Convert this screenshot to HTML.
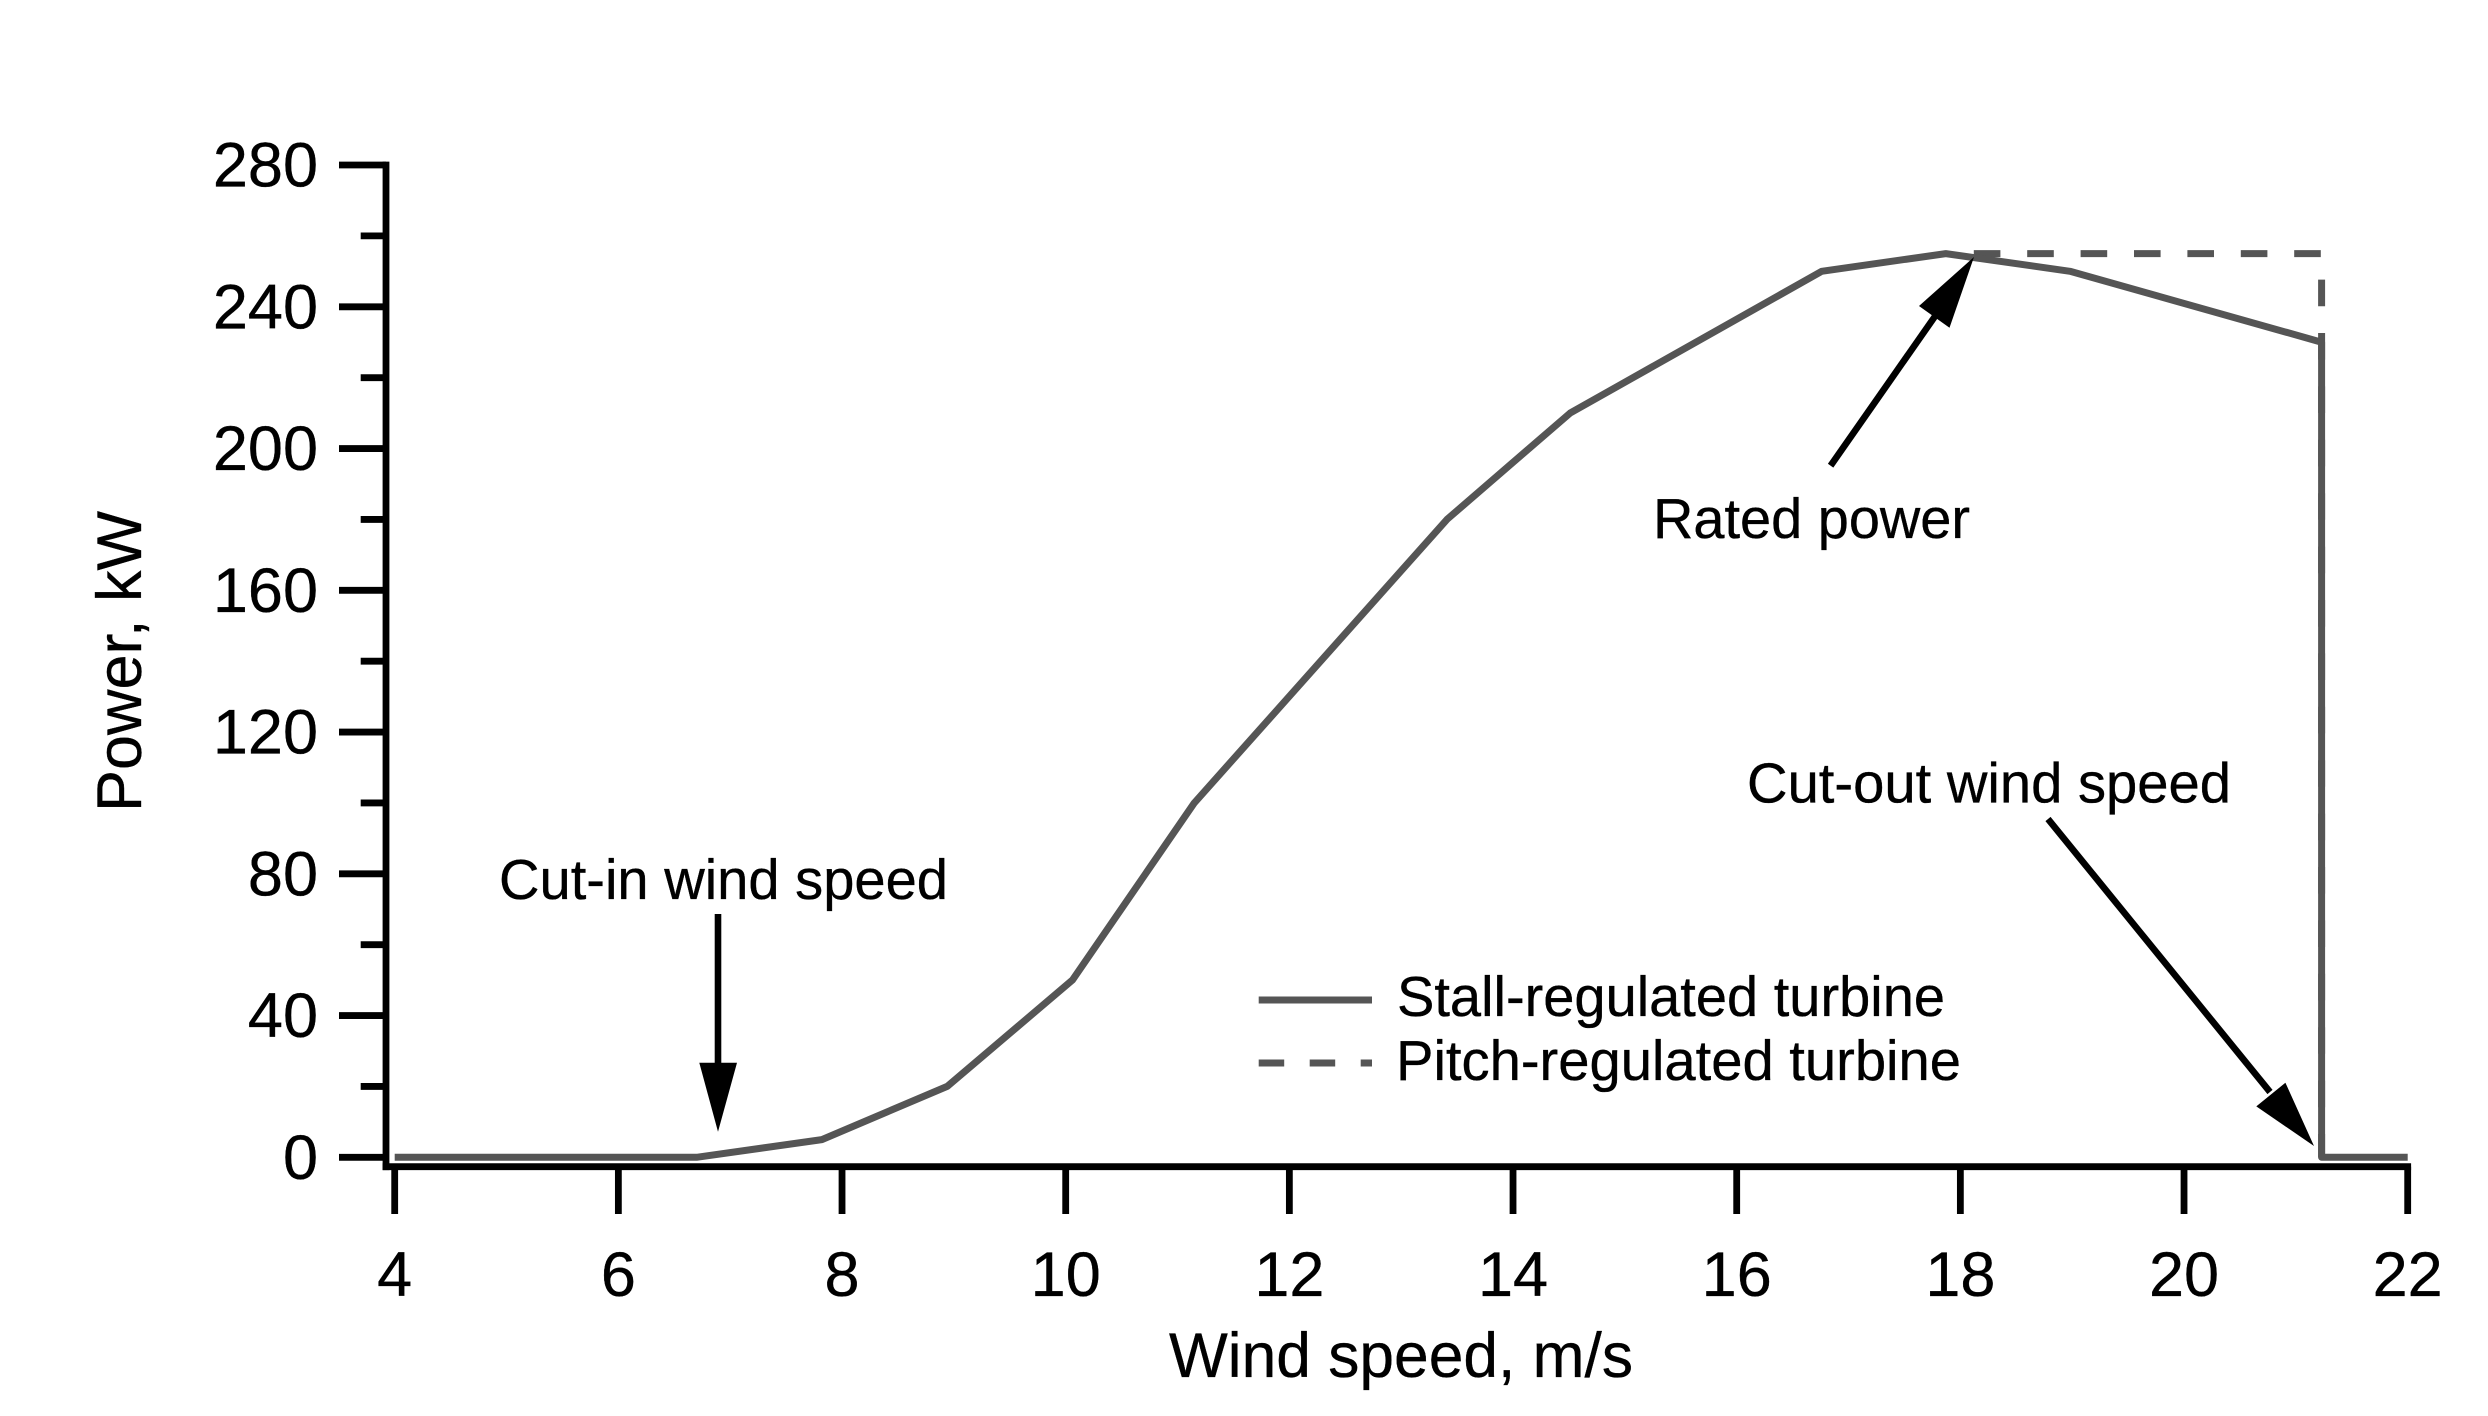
<!DOCTYPE html>
<html lang="en">
<head>
<meta charset="utf-8">
<title>Wind turbine power curve</title>
<style>
  html, body { margin: 0; padding: 0; background: #fff; }
  svg { display: block; }
  text { font-family: "Liberation Sans", Arial, sans-serif; fill: #000; stroke: #000; stroke-width: 0.35px; }
  .big { font-size: 63px; }
  .note { font-size: 57px; }
</style>
</head>
<body>
<svg id="chart" xmlns="http://www.w3.org/2000/svg" width="2488" height="1416" viewBox="0 0 2488 1416">
  <rect x="0" y="0" width="2488" height="1416" fill="#fff"/>
  <g id="axes"></g>
  <g id="series"></g>

  <text class="big" x="1169" y="1377" textLength="464" lengthAdjust="spacingAndGlyphs">Wind speed, m/s</text>
  <text class="big" transform="translate(141 812) rotate(-90)" x="0" y="0" textLength="301" lengthAdjust="spacingAndGlyphs">Power, kW</text>

  <g>
    <text class="note" x="499" y="899" textLength="449" lengthAdjust="spacingAndGlyphs">Cut-in wind speed</text>
    <line x1="718" y1="914" x2="718" y2="1070" stroke="#000" stroke-width="6.6"/>
    <polygon points="699.3,1062.7 737,1062.7 718,1131.7" fill="#000"/>
  </g>
  <g>
    <text class="note" x="1653" y="538" textLength="317" lengthAdjust="spacingAndGlyphs">Rated power</text>
    <line x1="1830.6" y1="465.7" x2="1938" y2="312" stroke="#000" stroke-width="6.6"/>
    <polygon points="1974,257 1949.5,327.7 1919,306" fill="#000"/>
  </g>
  <g>
    <text class="note" x="1747" y="802.5" textLength="484" lengthAdjust="spacingAndGlyphs">Cut-out wind speed</text>
    <line x1="2048" y1="819" x2="2270" y2="1092" stroke="#000" stroke-width="6.6"/>
    <polygon points="2314,1146 2256.3,1106.4 2285.4,1082.7" fill="#000"/>
  </g>

  <g>
    <line x1="1258.7" y1="1000" x2="1372" y2="1000" stroke="#555" stroke-width="7"/>
    <text class="note" x="1397" y="1016" textLength="548" lengthAdjust="spacingAndGlyphs">Stall-regulated turbine</text>
    <line x1="1258.7" y1="1063" x2="1372" y2="1063" stroke="#555" stroke-width="7" stroke-dasharray="25.5 25.5"/>
    <text class="note" x="1396" y="1080" textLength="565" lengthAdjust="spacingAndGlyphs">Pitch-regulated turbine</text>
  </g>
</svg>
<script>
// Chart data
const xTickLabels = [4, 6, 8, 10, 12, 14, 16, 18, 20, 22];
const yTickLabels = [0, 40, 80, 120, 160, 200, 240, 280];
const yMinorTicks = [20, 60, 100, 140, 180, 220, 260];
const stallWindSpeed = [4, 6.7, 7.82, 8.94, 10.06, 11.15, 13.41, 14.51, 16.76, 17.87, 18.98, 21.23, 21.23, 22];
const stallPower = [0, 0, 5, 20, 50, 100, 180, 210, 250, 255, 250, 230, 0, 0];
const pitchWindSpeed = [18.12, 21.23, 21.23];
const pitchPower = [255, 255, 0];

const NS = 'http://www.w3.org/2000/svg';
const axesGroup = document.getElementById('axes');
const seriesGroup = document.getElementById('series');

function xScale(v) { return 394.7 + (v - 4) * 111.833; }
function yScale(v) { return 1157.3 - v * 3.5438; }

function makeLine(x1, y1, x2, y2) {
  const l = document.createElementNS(NS, 'line');
  l.setAttribute('x1', x1);
  l.setAttribute('y1', y1);
  l.setAttribute('x2', x2);
  l.setAttribute('y2', y2);
  l.setAttribute('stroke', '#000');
  l.setAttribute('stroke-width', '6.8');
  return l;
}

const yAxisX = 386;
const xAxisY = 1166.7;

const yAxisLine = makeLine(yAxisX, yScale(280) - 3.4, yAxisX, xAxisY + 3.4);


axesGroup.appendChild(yAxisLine);

const xAxisLine = makeLine(yAxisX - 3.4, xAxisY, xScale(22) + 3.4, xAxisY);


axesGroup.appendChild(xAxisLine);

yTickLabels.forEach(function (v) {
  const t = makeLine(339, yScale(v), yAxisX, yScale(v));
  
  
  axesGroup.appendChild(t);
  const label = document.createElementNS(NS, 'text');
  label.setAttribute('class', 'big');
  label.setAttribute('x', 318);
  label.setAttribute('y', yScale(v) + 21.5);
  label.setAttribute('text-anchor', 'end');
  
  
  label.textContent = v;
  axesGroup.appendChild(label);
});

yMinorTicks.forEach(function (v) {
  const t = makeLine(360.7, yScale(v), yAxisX, yScale(v));
  
  
  axesGroup.appendChild(t);
});

xTickLabels.forEach(function (v) {
  const t = makeLine(xScale(v), xAxisY, xScale(v), 1214);
  
  
  axesGroup.appendChild(t);
  const label = document.createElementNS(NS, 'text');
  label.setAttribute('class', 'big');
  label.setAttribute('x', xScale(v));
  label.setAttribute('y', 1296);
  label.setAttribute('text-anchor', 'middle');
  
  
  label.textContent = v;
  axesGroup.appendChild(label);
});

function buildPoints(xs, ys) {
  return xs.map(function (x, i) {
    return xScale(x).toFixed(1) + ',' + yScale(ys[i]).toFixed(1);
  }).join(' ');
}

const pitchLine = document.createElementNS(NS, 'polyline');
pitchLine.setAttribute('points', buildPoints(pitchWindSpeed, pitchPower));
pitchLine.setAttribute('fill', 'none');
pitchLine.setAttribute('stroke', '#555');
pitchLine.setAttribute('stroke-width', '7');
pitchLine.setAttribute('stroke-dasharray', '26.6 26.8');


seriesGroup.appendChild(pitchLine);

const stallLine = document.createElementNS(NS, 'polyline');
stallLine.setAttribute('points', buildPoints(stallWindSpeed, stallPower));
stallLine.setAttribute('fill', 'none');
stallLine.setAttribute('stroke', '#555');
stallLine.setAttribute('stroke-width', '7');
stallLine.setAttribute('stroke-linejoin', 'round');


seriesGroup.appendChild(stallLine);
</script>
</body>
</html>
